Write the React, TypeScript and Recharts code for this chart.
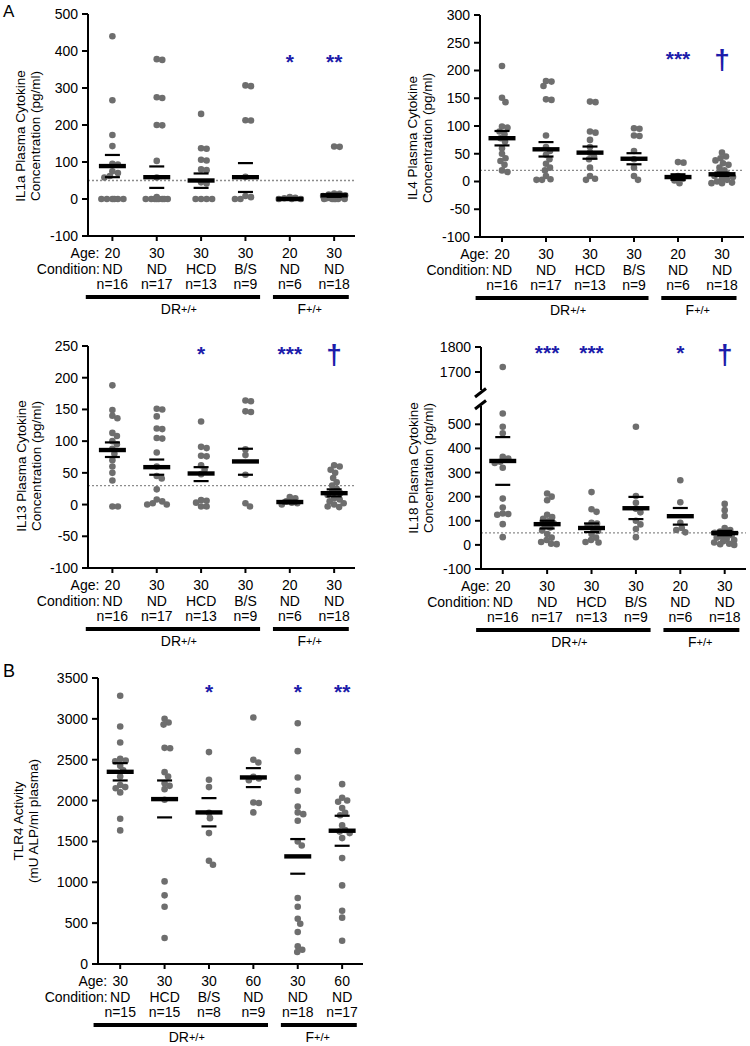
import React from 'react';
import { ScatterChart, Scatter, XAxis, YAxis, ReferenceLine } from 'recharts';

const FONT = '"Liberation Sans", Arial, Helvetica, sans-serif';
const DOT = '#6e6e6e';
const BLUE = '#1c1caa';

// ---------------- tick labels ----------------
const ilAges = ['20', '30', '30', '30', '20', '30'];
const ilConds = ['ND', 'ND', 'HCD', 'B/S', 'ND', 'ND'];
const ilNs = ['n=16', 'n=17', 'n=13', 'n=9', 'n=6', 'n=18'];
const tlrAges = ['30', '30', '30', '60', '30', '60'];
const tlrConds = ['ND', 'HCD', 'B/S', 'ND', 'ND', 'ND'];
const tlrNs = ['n=15', 'n=15', 'n=8', 'n=9', 'n=18', 'n=17'];
const genotypes = ['DR', 'F'];
const categories = [1, 2, 3, 4, 5, 6];

const il1aTicks = [-100, 0, 100, 200, 300, 400, 500];
const il4Ticks = [-100, -50, 0, 50, 100, 150, 200, 250, 300];
const il13Ticks = [-100, -50, 0, 50, 100, 150, 200, 250];
const il18LowTicks = [-100, 0, 100, 200, 300, 400, 500];
const il18HighTicks = [1700, 1800];
const tlrTicks = [0, 500, 1000, 1500, 2000, 2500, 3000, 3500];

// ---------------- IL1a ----------------
const il1aG1 = [440, 267, 173, 143, 95, 93, 75, 70, 62, 58, 0, 0, 0, 0, 0, 0];
const il1aG2 = [378, 376, 275, 273, 200, 199, 103, 58, 5, 0, 0, 0, 0, 0, 0, 0, 0];
const il1aG3 = [230, 137, 136, 106, 104, 80, 78, 45, 42, 0, 0, 0, 0];
const il1aG4 = [307, 305, 213, 212, 60, 8, 5, 0, 0];
const il1aG5 = [5, 3, 2, 0, 0, 0];
const il1aG6 = [142, 141, 15, 14, 12, 10, 8, 8, 5, 5, 3, 2, 0, 0, 0, 0, 0, 0];
const il1aMean = [89, 59, 50, 59, 0, 10];
const il1aSemHi = [119, 88, 69, 97, 2, 14];
const il1aSemLo = [59, 30, 30, 19, -2, 6];
const il1aMarks = [{ g: 5, v: 384, t: '*' }, { g: 6, v: 384, t: '**' }];
const il1aLimit = 50;

// ---------------- IL4 ----------------
const il4G1 = [208, 151, 143, 99, 97, 90, 85, 78, 72, 60, 50, 42, 37, 30, 20, 17];
const il4G2 = [181, 180, 172, 148, 147, 83, 62, 55, 48, 40, 32, 25, 20, 10, 4, 3, 3];
const il4G3 = [144, 143, 90, 88, 75, 62, 52, 45, 40, 25, 10, 5, 3];
const il4G4 = [96, 95, 83, 82, 55, 40, 25, 10, 3];
const il4G5 = [35, 34, 10, 5, 2, -3];
const il4G6 = [52, 45, 42, 38, 33, 30, 25, 20, 15, 12, 10, 8, 5, 3, 0, -2, -3, -3];
const il4Mean = [78, 58, 52, 41, 8, 13];
const il4SemHi = [91, 71, 63, 51, 13, 16];
const il4SemLo = [65, 45, 41, 31, 3, 10];
const il4Marks = [{ g: 5, v: 230, t: '***' }, { g: 6, v: 218, t: '\u2020' }];
const il4Limit = 20;

// ---------------- IL13 ----------------
const il13G1 = [188, 149, 140, 136, 113, 108, 100, 95, 88, 80, 70, 60, 50, 38, -3, -3];
const il13G2 = [151, 150, 139, 120, 119, 105, 104, 82, 60, 45, 41, 24, 8, 5, 2, 0, 0];
const il13G3 = [131, 91, 89, 77, 76, 62, 55, 48, 7, 6, 3, -3, -3];
const il13G4 = [164, 163, 147, 146, 87, 78, 47, 2, -3];
const il13G5 = [12, 10, 5, 3, 2, 0];
const il13G6 = [62, 60, 55, 50, 42, 35, 30, 25, 20, 18, 15, 10, 8, 5, 2, 0, -3, -4];
const il13Mean = [86, 59, 49, 68, 4, 18];
const il13SemHi = [98, 71, 59, 88, 6, 24];
const il13SemLo = [75, 47, 37, 47, 2, 13];
const il13Marks = [{ g: 3, v: 246, t: '*' }, { g: 5, v: 246, t: '***' }, { g: 6, v: 235, t: '\u2020' }];
const il13Limit = 30;

// ---------------- IL18 ----------------
const il18G1 = [1720, 545, 490, 463, 365, 358, 345, 340, 320, 192, 155, 130, 128, 125, 86, 32];
const il18G2 = [213, 200, 185, 125, 115, 108, 98, 90, 80, 72, 60, 45, 30, 20, 12, 5, 3];
const il18G3 = [219, 148, 137, 92, 88, 75, 68, 58, 45, 30, 20, 12, 10];
const il18G4 = [490, 203, 175, 150, 135, 100, 85, 66, 32];
const il18G5 = [268, 177, 92, 70, 62, 52];
const il18G6 = [170, 144, 120, 70, 62, 55, 50, 45, 40, 35, 30, 25, 20, 15, 10, 5, 3, 0];
const il18Mean = [348, 86, 70, 152, 119, 49];
const il18SemHi = [447, 100, 89, 199, 153, 58];
const il18SemLo = [249, 68, 53, 107, 84, 40];
const il18Marks = [{ g: 2, v: 1796, t: '***' }, { g: 3, v: 1796, t: '***' }, { g: 5, v: 1796, t: '*' }, { g: 6, v: 1763, t: '\u2020' }];
const il18Limit = 50;

// ---------------- TLR4 ----------------
const tlrG1 = [3282, 2907, 2711, 2510, 2490, 2480, 2425, 2370, 2295, 2190, 2165, 2150, 2100, 1777, 1635];
const tlrG2 = [3000, 2955, 2930, 2645, 2640, 2348, 2295, 2213, 2180, 2140, 2010, 1011, 840, 701, 318];
const tlrG3 = [2593, 2254, 2165, 1850, 1785, 1602, 1264, 1215];
const tlrG4 = [3017, 2500, 2466, 2290, 2270, 2250, 1977, 1970, 1855];
const tlrG5 = [2947, 2605, 2283, 2120, 1928, 1855, 1834, 1753, 1500, 1451, 807, 701, 554, 493, 391, 216, 175, 147];
const tlrG6 = [2201, 2035, 2000, 1985, 1908, 1850, 1820, 1696, 1640, 1620, 1602, 1541, 1296, 962, 652, 567, 285];
const tlrMean = [2352, 2018, 1855, 2283, 1317, 1631];
const tlrSemHi = [2458, 2246, 2030, 2397, 1529, 1814];
const tlrSemLo = [2246, 1794, 1684, 2165, 1105, 1447];
const tlrMarks = [{ g: 3, v: 3392, t: '*' }, { g: 5, v: 3392, t: '*' }, { g: 6, v: 3392, t: '**' }];

// ---------------- layout helpers ----------------
const BAR_SPANS = [
  { from: 0.4, to: 4.33, at: 2.5 },
  { from: 4.62, to: 6.33, at: 5.45 },
];

function swarm(vals: number[], ppu: number, ppc: number, d = 5.4, maxHalf = 11) {
  const order = [...vals].sort((a, b) => b - a);
  const placed: { x: number; y: number }[] = [];
  const out: { dx: number; v: number }[] = [];
  for (const v of order) {
    const y = v * ppu;
    let best = 0;
    let bestScore = -Infinity;
    for (let s = 0; s <= maxHalf * 4; s++) {
      const cand = s === 0 ? 0 : (s % 2 ? 1 : -1) * Math.ceil(s / 2) * 0.5;
      let minD = Infinity;
      for (const p of placed) {
        const dd = Math.hypot(p.x - cand, p.y - y);
        if (dd < minD) minD = dd;
      }
      if (minD >= d) { best = cand; bestScore = Infinity; break; }
      if (minD > bestScore + 0.8) { bestScore = minD; best = cand; }
    }
    placed.push({ x: best, y });
    out.push({ dx: best / ppc, v });
  }
  return out;
}

const Dot = (p: any) => <circle cx={p.cx} cy={p.cy} r={3.3} fill={DOT} />;
const MeanShape = (p: any) => (
  <line x1={p.cx - 13.5} x2={p.cx + 13.5} y1={p.cy} y2={p.cy} stroke="#000" strokeWidth={4.4} />
);
const SemShape = (p: any) => (
  <line x1={p.cx - 7.5} x2={p.cx + 7.5} y1={p.cy} y2={p.cy} stroke="#000" strokeWidth={2.2} />
);
const MarkShape = (p: any) => {
  const t = p.payload.t as string;
  const dag = t === '\u2020';
  return (
    <text x={p.cx} y={p.cy + (dag ? 8 : 12)} textAnchor="middle" fontSize={dag ? 28 : 21}
      fontWeight="bold" fill={BLUE} fontFamily={FONT}>{t}</text>
  );
};

function YTitle({ lines, xs, cy }: { lines: string[]; xs: number[]; cy: number }) {
  return (
    <g>
      {lines.map((l, i) => (
        <text key={i} x={xs[i]} y={cy} transform={`rotate(-90 ${xs[i]} ${cy})`} textAnchor="middle"
          dominantBaseline="central" fontSize={13.5} fontFamily={FONT} fill="#000">{l}</text>
      ))}
    </g>
  );
}

function makeXTick(ages: string[], conds: string[], ns: string[], ppc: number) {
  return (props: any) => {
    const { x, y, payload } = props;
    const idx = Math.round(payload.value) - 1;
    const ax = y - 5;
    const c = { fontSize: 14, fill: '#000', fontFamily: FONT, dominantBaseline: 'central' as const };
    return (
      <g>
        {idx === 0 && (
          <g>
            <text x={x - 13} y={ax + 17} textAnchor="end" {...c}>Age:</text>
            <text x={x - 12.5} y={ax + 33} textAnchor="end" {...c}>Condition:</text>
            {BAR_SPANS.map((b, i) => (
              <rect key={'b' + i} x={x + (b.from - 1) * ppc} y={ax + 59} width={(b.to - b.from) * ppc} height={4} fill="#000" />
            ))}
            {BAR_SPANS.map((b, i) => (
              <text key={'t' + i} x={x + (b.at - 1) * ppc} y={ax + 73} textAnchor="middle" {...c}>
                {genotypes[i]}<tspan fontSize={11}>+/+</tspan>
              </text>
            ))}
          </g>
        )}
        <text x={x} y={ax + 17} textAnchor="middle" {...c}>{ages[idx]}</text>
        <text x={x} y={ax + 33} textAnchor="middle" {...c}>{conds[idx]}</text>
        <text x={x} y={ax + 48} textAnchor="middle" {...c}>{ns[idx]}</text>
      </g>
    );
  };
}

type Mark = { g: number; v: number; t: string };
type PanelProps = {
  left: number; top: number; width: number; height: number;
  mTop: number; mRight: number; yW: number; xH: number;
  xDomain: [number, number]; yDomain: [number, number]; yTicks: number[];
  groups: number[][]; means?: number[]; semHi?: number[]; semLo?: number[];
  marks?: Mark[]; limit?: number;
  title?: string[]; titleXs?: number[]; titleCY?: number;
  labels?: { ages: string[]; conds: string[]; ns: string[] };
  swarmPpu?: number; keep?: (v: number) => boolean;
};

function Panel(P: PanelProps) {
  const plotW = P.width - P.yW - P.mRight;
  const plotH = P.height - P.mTop - P.xH;
  const ppc = plotW / (P.xDomain[1] - P.xDomain[0]);
  const ppu = P.swarmPpu ?? plotH / (P.yDomain[1] - P.yDomain[0]);
  const keep = P.keep ?? (() => true);
  const points = P.groups.flatMap((vals, gi) =>
    swarm(vals, ppu, ppc).filter((p) => keep(p.v)).map((p) => ({ x: gi + 1 + p.dx, y: p.v }))
  );
  const meanData = (P.means ?? []).map((m, i) => ({ x: i + 1, y: m }));
  const semData = [...(P.semHi ?? []), ...(P.semLo ?? [])].map((m, i) => ({ x: (i % 6) + 1, y: m }));
  const markData = (P.marks ?? []).map((m) => ({ x: m.g, y: m.v, t: m.t }));
  const axisStroke = { stroke: '#000', strokeWidth: 2 };
  return (
    <div style={{ position: 'absolute', left: P.left, top: P.top, width: P.width, height: P.height }}>
      <ScatterChart width={P.width} height={P.height} margin={{ top: P.mTop, right: P.mRight, bottom: 0, left: 0 }}>
        <XAxis type="number" dataKey="x" domain={P.xDomain} ticks={categories} interval={0}
          hide={!P.labels} height={P.xH} tickSize={5} tickMargin={0}
          axisLine={axisStroke} tickLine={axisStroke}
          tick={P.labels ? makeXTick(P.labels.ages, P.labels.conds, P.labels.ns, ppc) : false} />
        <YAxis type="number" dataKey="y" domain={P.yDomain} ticks={P.yTicks} interval={0}
          width={P.yW} tickSize={6} tickMargin={4} axisLine={axisStroke} tickLine={axisStroke}
          tick={{ fontSize: 14, fill: '#000', fontFamily: FONT }}
          label={P.title ? <YTitle lines={P.title} xs={P.titleXs!} cy={P.titleCY!} /> : undefined} />
        {P.limit !== undefined && (
          <ReferenceLine y={P.limit} stroke="#8c8c8c" strokeDasharray="2 2" strokeWidth={1.3} />
        )}
        <Scatter data={points} shape={Dot} isAnimationActive={false} />
        <Scatter data={semData} shape={SemShape} isAnimationActive={false} />
        <Scatter data={meanData} shape={MeanShape} isAnimationActive={false} />
        <Scatter data={markData} shape={MarkShape} isAnimationActive={false} />
      </ScatterChart>
    </div>
  );
}

const ilLabels = { ages: ilAges, conds: ilConds, ns: ilNs };
const tlrLabels = { ages: tlrAges, conds: tlrConds, ns: tlrNs };

export default function App() {
  return (
    <div style={{ position: 'absolute', left: 0, top: 0, width: 750, height: 1046, overflow: 'hidden', background: '#fff', fontFamily: FONT }}>
      <Panel left={0} top={0} width={375} height={320} mTop={14} mRight={20} yW={88} xH={84}
        xDomain={[0.45, 6.47]} yDomain={[-100, 500]} yTicks={il1aTicks}
        groups={[il1aG1, il1aG2, il1aG3, il1aG4, il1aG5, il1aG6]}
        means={il1aMean} semHi={il1aSemHi} semLo={il1aSemLo} marks={il1aMarks} limit={il1aLimit}
        title={['IL1a Plasma Cytokine', 'Concentration (pg/ml)']} titleXs={[20, 35]} titleCY={136}
        labels={ilLabels} />
      <Panel left={375} top={0} width={375} height={321} mTop={15} mRight={6} yW={105} xH={84}
        xDomain={[0.5, 6.5]} yDomain={[-100, 300]} yTicks={il4Ticks}
        groups={[il4G1, il4G2, il4G3, il4G4, il4G5, il4G6]}
        means={il4Mean} semHi={il4SemHi} semLo={il4SemLo} marks={il4Marks} limit={il4Limit}
        title={['IL4 Plasma Cytokine', 'Concentration (pg/ml)']} titleXs={[37, 52]} titleCY={138}
        labels={ilLabels} />
      <Panel left={0} top={330} width={375} height={322} mTop={16} mRight={20} yW={88} xH={84}
        xDomain={[0.45, 6.47]} yDomain={[-100, 250]} yTicks={il13Ticks}
        groups={[il13G1, il13G2, il13G3, il13G4, il13G5, il13G6]}
        means={il13Mean} semHi={il13SemHi} semLo={il13SemLo} marks={il13Marks} limit={il13Limit}
        title={['IL13 Plasma Cytokine', 'Concentration (pg/ml)']} titleXs={[21, 36]} titleCY={136}
        labels={ilLabels} />
      {/* IL18 upper segment (axis break) */}
      <Panel left={375} top={330} width={375} height={60} mTop={17} mRight={4} yW={106} xH={0}
        xDomain={[0.51, 6.48]} yDomain={[1628, 1800]} yTicks={il18HighTicks}
        groups={[il18G1, il18G2, il18G3, il18G4, il18G5, il18G6]} marks={il18Marks}
        swarmPpu={0.2417} keep={(v) => v > 1000} />
      {/* IL18 lower segment */}
      <Panel left={375} top={390} width={375} height={263} mTop={16} mRight={4} yW={106} xH={84}
        xDomain={[0.51, 6.48]} yDomain={[-100, 576]} yTicks={il18LowTicks}
        groups={[il18G1, il18G2, il18G3, il18G4, il18G5, il18G6]}
        means={il18Mean} semHi={il18SemHi} semLo={il18SemLo} limit={il18Limit}
        keep={(v) => v <= 1000}
        title={['IL18 Plasma Cytokine', 'Concentration (pg/ml)']} titleXs={[38, 53]} titleCY={78}
        labels={ilLabels} />
      <Panel left={0} top={650} width={375} height={396} mTop={28} mRight={12} yW={98} xH={82}
        xDomain={[0.5, 6.47]} yDomain={[0, 3500]} yTicks={tlrTicks}
        groups={[tlrG1, tlrG2, tlrG3, tlrG4, tlrG5, tlrG6]}
        means={tlrMean} semHi={tlrSemHi} semLo={tlrSemLo} marks={tlrMarks}
        title={['TLR4 Activity', '(mU ALP/ml plasma)']} titleXs={[18, 33]} titleCY={171}
        labels={tlrLabels} />
      <svg width={750} height={1046} style={{ position: 'absolute', left: 0, top: 0, pointerEvents: 'none' }}>
        <text x={3} y={17} fontSize={17} fontFamily={FONT} fill="#000">A</text>
        <text x={3} y={677} fontSize={18} fontFamily={FONT} fill="#000">B</text>
        <line x1={475} y1={397} x2={486} y2={388.5} stroke="#000" strokeWidth={3} />
        <line x1={475} y1={409} x2={486} y2={400.5} stroke="#000" strokeWidth={3} />
      </svg>
    </div>
  );
}
